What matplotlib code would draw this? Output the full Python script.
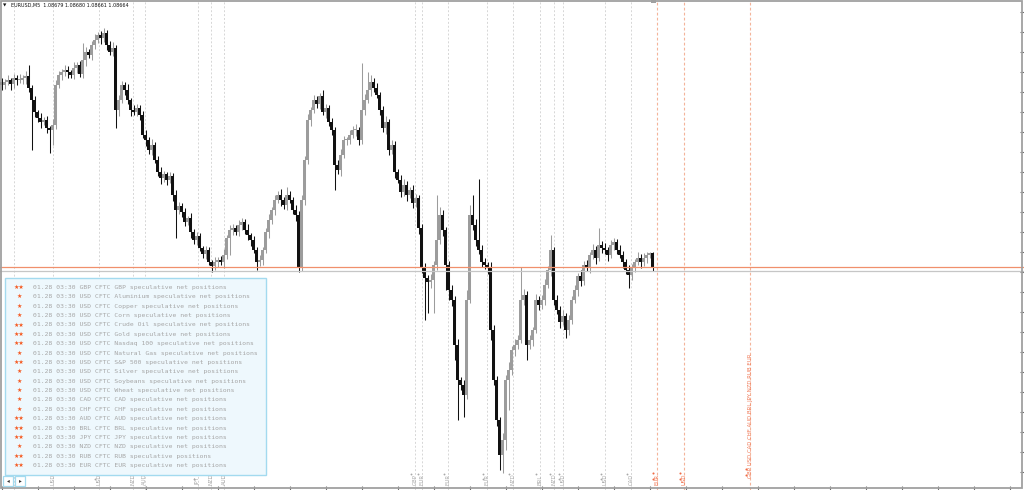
import matplotlib
matplotlib.use("Agg")
import numpy as np
import matplotlib.pyplot as plt
import matplotlib.transforms as mtransforms
from matplotlib.patches import Rectangle
from matplotlib.ticker import MultipleLocator

# ---------------- data (EURUSD M5) ----------------
symbol_title = "EURUSD,M5  1.08679 1.08680 1.08661 1.08664"
first_open = 1.08850
closes = [
    1.08847, 1.08850, 1.08852, 1.08848, 1.08854, 1.08852, 1.08852, 1.08854, 1.08856, 1.08844,
    1.08832, 1.08820, 1.08814, 1.08810, 1.08812, 1.08804, 1.08802, 1.08807, 1.08847, 1.08857,
    1.08860, 1.08862, 1.08860, 1.08857, 1.08864, 1.08867, 1.08858, 1.08872, 1.08880, 1.08877,
    1.08887, 1.08892, 1.08897, 1.08894, 1.08899, 1.08887, 1.08880, 1.08884, 1.08822, 1.08832,
    1.08847, 1.08842, 1.08832, 1.08822, 1.08820, 1.08824, 1.08817, 1.08797, 1.08792, 1.08782,
    1.08787, 1.08772, 1.08760, 1.08754, 1.08758, 1.08752, 1.08756, 1.08737, 1.08722, 1.08726,
    1.08720, 1.08710, 1.08714, 1.08700, 1.08692, 1.08696, 1.08684, 1.08678, 1.08682, 1.08670,
    1.08666, 1.08670, 1.08672, 1.08670, 1.08677, 1.08694, 1.08702, 1.08704, 1.08700, 1.08707,
    1.08710, 1.08702, 1.08697, 1.08692, 1.08682, 1.08670, 1.08672, 1.08682, 1.08700, 1.08712,
    1.08722, 1.08732, 1.08737, 1.08732, 1.08727, 1.08737, 1.08732, 1.08722, 1.08717, 1.08664,
    1.08732, 1.08772, 1.08812, 1.08822, 1.08832, 1.08828, 1.08836, 1.08820, 1.08824, 1.08810,
    1.08802, 1.08767, 1.08762, 1.08777, 1.08792, 1.08792, 1.08797, 1.08802, 1.08802, 1.08792,
    1.08822, 1.08832, 1.08842, 1.08850, 1.08844, 1.08837, 1.08822, 1.08804, 1.08810, 1.08782,
    1.08787, 1.08760, 1.08752, 1.08740, 1.08747, 1.08737, 1.08742, 1.08729, 1.08734, 1.08704,
    1.08664, 1.08654, 1.08650, 1.08652, 1.08667, 1.08692, 1.08717, 1.08702, 1.08667, 1.08642,
    1.08632, 1.08587, 1.08552, 1.08547, 1.08537, 1.08632, 1.08717, 1.08707, 1.08692, 1.08682,
    1.08670, 1.08667, 1.08664, 1.08602, 1.08552, 1.08512, 1.08477, 1.08492, 1.08552, 1.08562,
    1.08582, 1.08587, 1.08592, 1.08632, 1.08637, 1.08587, 1.08592, 1.08602, 1.08632, 1.08627,
    1.08632, 1.08647, 1.08662, 1.08682, 1.08632, 1.08622, 1.08610, 1.08616, 1.08602, 1.08612,
    1.08632, 1.08642, 1.08656, 1.08651, 1.08667, 1.08664, 1.08677, 1.08682, 1.08674, 1.08687,
    1.08684, 1.08682, 1.08677, 1.08687, 1.08690, 1.08682, 1.08677, 1.08670, 1.08662, 1.08657,
    1.08664, 1.08670, 1.08674, 1.08670, 1.08674, 1.08677, 1.08679, 1.08664,
]
# wick lengths in points (0.00001)
upper_wicks = [
    4, 3, 5, 2, 4, 3, 6, 3, 5, 11,
    3, 4, 2, 5, 3, 4, 2, 6, 5, 4,
    3, 5, 4, 2, 6, 3, 4, 17, 5, 3,
    4, 6, 3, 4, 5, 3, 4, 6, 3, 5,
    4, 3, 6, 2, 5, 4, 3, 4, 5, 3,
    6, 3, 4, 5, 3, 2, 4, 3, 5, 4,
    3, 4, 2, 5, 3, 4, 3, 2, 4, 3,
    2, 5, 3, 4, 6, 3, 5, 4, 3, 5,
    4, 3, 6, 2, 4, 3, 5, 3, 4, 6,
    3, 5, 4, 6, 3, 8, 4, 3, 5, 4,
    5, 4, 6, 3, 5, 4, 3, 6, 4, 3,
    4, 3, 5, 6, 4, 3, 5, 4, 6, 3,
    47, 6, 18, 7, 4, 5, 3, 4, 6, 3,
    5, 4, 3, 5, 6, 4, 3, 5, 4, 3,
    4, 5, 3, 6, 4, 45, 8, 5, 3, 4,
    5, 4, 6, 3, 5, 10, 10, 20, 6, 61,
    5, 4, 3, 6, 5, 4, 3, 7, 5, 8,
    4, 6, 5, 33, 6, 4, 5, 3, 6, 4,
    5, 6, 4, 15, 3, 5, 4, 6, 3, 5,
    4, 5, 3, 6, 4, 5, 3, 6, 4, 17,
    4, 5, 3, 5, 4, 3, 5, 4, 3, 5,
    4, 3, 6, 4, 5, 3, 1, 1,
]
lower_wicks = [
    5, 4, 3, 6, 4, 5, 3, 4, 6, 4,
    50, 5, 4, 6, 3, 5, 23, 15, 4, 3,
    5, 4, 6, 3, 4, 5, 3, 4, 6, 3,
    5, 4, 3, 6, 4, 5, 3, 4, 18, 6,
    3, 5, 4, 6, 3, 4, 5, 3, 6, 4,
    5, 3, 4, 6, 4, 5, 3, 6, 28, 4,
    5, 4, 3, 6, 4, 5, 3, 4, 5, 3,
    6, 4, 5, 3, 6, 4, 17, 5, 3, 4,
    5, 4, 5, 6, 3, 8, 4, 5, 3, 6,
    4, 5, 3, 6, 4, 5, 3, 4, 6, 4,
    3, 5, 4, 6, 3, 4, 5, 3, 6, 4,
    5, 25, 4, 6, 3, 5, 4, 3, 6, 5,
    4, 5, 3, 6, 4, 3, 5, 4, 6, 5,
    4, 6, 3, 5, 4, 6, 3, 5, 4, 6,
    5, 42, 31, 6, 33, 5, 4, 6, 25, 10,
    6, 15, 40, 5, 22, 4, 3, 5, 6, 4,
    5, 4, 6, 10, 5, 6, 15, 18, 10, 30,
    5, 6, 4, 3, 5, 15, 4, 6, 3, 5,
    4, 5, 3, 6, 5, 4, 6, 3, 8, 5,
    4, 3, 6, 5, 4, 3, 5, 4, 6, 3,
    5, 4, 6, 3, 5, 4, 3, 6, 4, 13,
    5, 4, 3, 6, 4, 5, 3, 3,
]
ask_price = 1.08665
bid_price = 1.08661

# calendar panel
event_date = "01.28"
event_time = "03:30"
event_currency = ["GBP", "USD", "USD", "USD", "USD", "USD", "USD", "USD", "USD", "USD",
                  "USD", "USD", "CAD", "CHF", "AUD", "BRL", "JPY", "NZD", "RUB", "EUR"]
event_names = [
    "CFTC GBP speculative net positions",
    "CFTC Aluminium speculative net positions",
    "CFTC Copper speculative net positions",
    "CFTC Corn speculative net positions",
    "CFTC Crude Oil speculative net positions",
    "CFTC Gold speculative net positions",
    "CFTC Nasdaq 100 speculative net positions",
    "CFTC Natural Gas speculative net positions",
    "CFTC S&P 500 speculative net positions",
    "CFTC Silver speculative net positions",
    "CFTC Soybeans speculative net positions",
    "CFTC Wheat speculative net positions",
    "CFTC CAD speculative net positions",
    "CFTC CHF speculative net positions",
    "CFTC AUD speculative net positions",
    "CFTC BRL speculative net positions",
    "CFTC JPY speculative net positions",
    "CFTC NZD speculative net positions",
    "CFTC RUB speculative positions",
    "CFTC EUR speculative net positions",
]
event_importance = [2, 1, 1, 1, 2, 2, 2, 1, 2, 1, 1, 1, 1, 1, 2, 2, 2, 1, 2, 2]

# event markers on the time axis (bar positions)
past_event_bars = [4.2, 17.2, 32.5, 43.8, 47.8, 65.5, 69.8, 74.2,
                   137.8, 140.2, 148.8, 161.8, 170.5, 179.5, 184.2, 187.2, 201.2, 209.8]
past_event_labels = ["", "USD", "USD", "NZD", "AUD", "JPY", "NZD", "AUD",
                     "GBP", "EUR", "EUR", "EUR", "NZD", "BRL", "NZD", "USD", "USD", "CAD"]
past_event_stars = [1, 1, 2, 1, 1, 2, 1, 1, 1, 1, 1, 2, 1, 1, 1, 2, 2, 1]
future_event_bars = [218.5, 227.5, 249.5]
future_event_labels = ["EUR", "USD", "GBP USD CAD CHF AUD BRL JPY NZD RUB EUR"]
future_event_stars = [2, 2, 2]

# ---------------- figure ----------------
W, H = 1024, 490
fig = plt.figure(figsize=(W / 100, H / 100), dpi=100)
fig.patch.set_facecolor("white")
ax = fig.add_axes([0, 0, 1, 1])
ax.set_xlim(-0.5, W / 3 - 0.5)
ax.set_ylim(1.08442, 1.08932)
for s in ax.spines.values():
    s.set_visible(False)
ax.yaxis.tick_right()
ax.yaxis.set_major_locator(MultipleLocator(0.0002))
ax.xaxis.set_major_locator(MultipleLocator(12))
ax.tick_params(axis="y", direction="in", length=3, width=0.8, color="#707070",
               labelright=False, labelleft=False, left=False, right=True)
ax.tick_params(axis="x", direction="in", length=3, width=0.8, color="#707070",
               labelbottom=False, bottom=True, top=False)


def fx(px):
    return px / W


def fy(py):
    return 1 - py / H


blend = mtransforms.blended_transform_factory(ax.transData, fig.transFigure)

# event vertical lines
for b in past_event_bars:
    ax.axvline(b, color="#d6d6d6", lw=0.7, ls=(0, (2, 2)), zorder=1)
for b in future_event_bars:
    ax.axvline(b, color="#f4b49a", lw=0.8, ls=(0, (2.5, 2)), zorder=1)

# candles
closes_a = np.array(closes)
opens_a = np.r_[first_open, closes_a[:-1]]
idx = np.arange(len(closes_a))
top = np.maximum(opens_a, closes_a)
bot = np.minimum(opens_a, closes_a)
highs = top + np.array(upper_wicks) * 1e-5
lows = bot - np.array(lower_wicks) * 1e-5
up = closes_a >= opens_a
cols = np.where(up, "#9c9c9c", "#111111")
ax.vlines(idx, lows, highs, colors=cols, lw=0.75, zorder=2)
ax.bar(idx, np.maximum(top - bot, 0.8e-5), bottom=bot, width=0.7,
       color=cols, linewidth=0, zorder=2)

# price lines
ax.axhline(ask_price, color="#f0906c", lw=0.9, zorder=3)
ax.axhline(bid_price, color="#c6c6c6", lw=0.9, zorder=3)

# bottom event labels
for b, lab, n in zip(past_event_bars, past_event_labels, past_event_stars):
    if lab:
        ax.text(b, fy(485), lab, transform=blend, rotation=90, ha="center", va="bottom",
                fontsize=3.9, color="#ababab", zorder=4)
    for k in range(n):
        ax.scatter([b - 1.3], [fy(474 + 5 * k)], transform=blend, s=1.8,
                   color="#a8a8a8", linewidths=0, zorder=4)
for j, (b, lab, n) in enumerate(zip(future_event_bars, future_event_labels, future_event_stars)):
    ax.text(b + (0.2 if j == 2 else 0), fy(485 if j < 2 else 478), lab, transform=blend,
            rotation=90, ha="center", va="bottom",
            fontsize=3.9, color="#f07a58", zorder=4)
    for k in range(n):
        ax.scatter([b - 1.3], [fy((473 if j < 2 else 469) + 6 * k)], transform=blend, s=2.2,
                   color="#f06a44", linewidths=0, zorder=4)

# chart border
fig.add_artist(Rectangle((fx(1), fy(488)), 1021 / W, 487 / H, transform=fig.transFigure,
                         fill=False, ec="#a0a0a0", lw=1.3, zorder=5))
# small shift marker at top
fig.add_artist(Rectangle((fx(651), fy(3)), 5 / W, 3 / H, transform=fig.transFigure,
                         fc="#a0a0a0", ec="none", zorder=5))

# title
fig.text(fx(3), fy(5.5), "▼", fontsize=3.2, color="#111111", va="center", ha="left")
fig.text(fx(11), fy(5.5), symbol_title, fontsize=3.5, color="#111111", va="center", ha="left")

# calendar panel
fig.add_artist(Rectangle((fx(5), fy(475)), 261 / W, 197 / H, transform=fig.transFigure,
                         fc="#eef8fd", ec="#a3daef", lw=1.0, zorder=6))
row0, drow = 287.5, 9.37
for k, (cur, name, imp) in enumerate(zip(event_currency, event_names, event_importance)):
    y = fy(row0 + k * drow)
    stars = "★★" if imp == 2 else "★"
    fig.text(fx(19), y, stars, fontsize=4.3, color="#f55a22", va="center", ha="center",
             zorder=7)
    fig.text(fx(33), y, f"{event_date} {event_time} {cur} {name}", fontsize=4.6,
             family="DejaVu Sans Mono", color="#a6a6a6", va="center", ha="left", zorder=7)

# scroll buttons
for x0, glyph in ((3, "◂"), (15, "▸")):
    fig.add_artist(Rectangle((fx(x0), fy(486)), 10 / W, 10 / H, transform=fig.transFigure,
                             fc="white", ec="#a3daef", lw=0.9, zorder=6))
    fig.text(fx(x0 + 5), fy(481), glyph, fontsize=4, color="#333333",
             va="center", ha="center", zorder=7)

fig.savefig("out.png", dpi=100, facecolor="white")
